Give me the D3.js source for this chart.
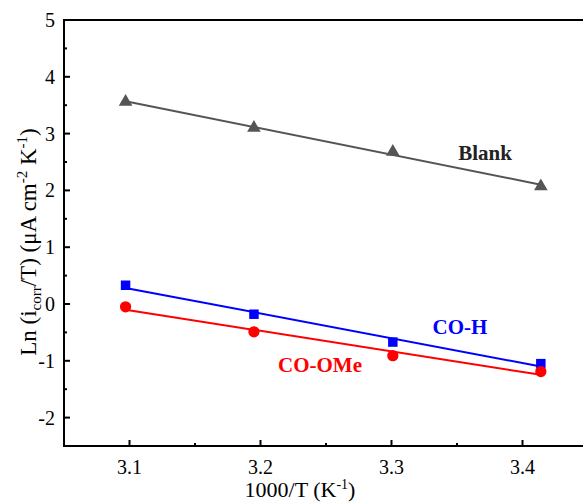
<!DOCTYPE html>
<html><head><meta charset="utf-8">
<script src="https://cdn.jsdelivr.net/npm/d3@7"></script>
<style>body{margin:0;background:#fff}svg{display:block;font-family:"Liberation Serif","Times New Roman",serif}</style>
</head><body><svg id="c" width="583" height="503"></svg>
<script>
const xVals = [3.097, 3.195, 3.301, 3.414];
const blank = [3.56, 3.10, 2.68, 2.07];
const coH = [0.33, -0.18, -0.67, -1.05];
const coOMe = [-0.05, -0.49, -0.91, -1.19];
const xTicks = [3.1, 3.2, 3.3, 3.4];
const yTicks = [-2, -1, 0, 1, 2, 3, 4, 5];

const svg = d3.select("#c");
const L = 64, R = 583, T = 20, B = 446;
const x = d3.scaleLinear().domain([3.05, 3.1]).range([L, L + 65.5]);
const y = d3.scaleLinear().domain([-2.5, 5]).range([B, T]);

svg.append("line").attr("x1", L).attr("x2", R).attr("y1", B).attr("y2", B).attr("stroke", "#000").attr("stroke-width", 2);
svg.append("line").attr("x1", L).attr("x2", L).attr("y1", T - 1).attr("y2", B + 1).attr("stroke", "#000").attr("stroke-width", 2);
svg.append("line").attr("x1", L).attr("x2", R).attr("y1", T).attr("y2", T).attr("stroke", "#000").attr("stroke-width", 2);

const xa = svg.append("g");
xTicks.forEach(v => {
  xa.append("line").attr("x1", x(v)).attr("x2", x(v)).attr("y1", B).attr("y2", B - 6).attr("stroke", "#000").attr("stroke-width", 2);
  xa.append("text").attr("x", x(v)).attr("y", 474).attr("text-anchor", "middle").attr("font-size", 20).text(v.toFixed(1));
});
[3.15, 3.25, 3.35, 3.45].forEach(v => {
  if (x(v) < R) xa.append("line").attr("x1", x(v)).attr("x2", x(v)).attr("y1", B).attr("y2", B - 3).attr("stroke", "#000").attr("stroke-width", 2);
});
const ya = svg.append("g");
yTicks.forEach(v => {
  ya.append("line").attr("x1", L).attr("x2", L + 6).attr("y1", y(v)).attr("y2", y(v)).attr("stroke", "#000").attr("stroke-width", 2);
  ya.append("text").attr("x", 55).attr("y", y(v) + 7).attr("text-anchor", "end").attr("font-size", 20).text(v);
});
d3.range(-2.5, 5, 1).forEach(v => {
  ya.append("line").attr("x1", L).attr("x2", L + 3).attr("y1", y(v)).attr("y2", y(v)).attr("stroke", "#000").attr("stroke-width", 2);
});

const xt = svg.append("text").attr("x", 300).attr("y", 497).attr("text-anchor", "middle").attr("font-size", 22);
xt.append("tspan").text("1000/T (K");
xt.append("tspan").attr("dy", -8).attr("font-size", 14).text("-1");
xt.append("tspan").attr("dy", 8).text(")");

const yt = svg.append("text").attr("transform", "translate(36,242) rotate(-90)").attr("text-anchor", "middle").attr("font-size", 23);
yt.append("tspan").text("Ln (i");
yt.append("tspan").attr("dy", 5).attr("font-size", 15).text("corr");
yt.append("tspan").attr("dy", -5).text("/T) (μA cm");
yt.append("tspan").attr("dy", -9).attr("font-size", 15).text("-2");
yt.append("tspan").attr("dy", 9).text(" K");
yt.append("tspan").attr("dy", -9).attr("font-size", 15).text("-1");
yt.append("tspan").attr("dy", 9).text(")");

function fit(ys) {
  const mx = d3.mean(xVals), my = d3.mean(ys);
  let num = 0, den = 0;
  xVals.forEach((xv, i) => { num += (xv - mx) * (ys[i] - my); den += (xv - mx) ** 2; });
  const b = num / den, a = my - b * mx;
  const x0 = xVals[0], x1 = xVals[xVals.length - 1];
  return [[x0, a + b * x0], [x1, a + b * x1]];
}
const series = [
  {vals: blank, color: "#555555", sym: d3.symbolTriangle, size: 80},
  {vals: coH, color: "#0000ff", sym: d3.symbolSquare, size: 90},
  {vals: coOMe, color: "#ff0000", sym: d3.symbolCircle, size: 100}
];
const line = d3.line().x(d => x(d[0])).y(d => y(d[1]));
series.forEach(s => {
  svg.append("path").attr("d", line(fit(s.vals))).attr("stroke", s.color).attr("stroke-width", 2).attr("fill", "none");
  svg.append("g").selectAll("path").data(s.vals).join("path")
    .attr("transform", (d, i) => `translate(${x(xVals[i])},${y(d)})`)
    .attr("d", d3.symbol().type(s.sym).size(s.size)).attr("fill", s.color);
});

svg.append("text").attr("x", 485).attr("y", 160).attr("text-anchor", "middle").attr("font-size", 21).attr("font-weight", "bold").attr("fill", "#222").text("Blank");
svg.append("text").attr("x", 460).attr("y", 334).attr("text-anchor", "middle").attr("font-size", 21).attr("font-weight", "bold").attr("fill", "#0000ff").text("CO-H");
svg.append("text").attr("x", 320).attr("y", 372).attr("text-anchor", "middle").attr("font-size", 21).attr("font-weight", "bold").attr("fill", "#ff0000").text("CO-OMe");
</script></body></html>
